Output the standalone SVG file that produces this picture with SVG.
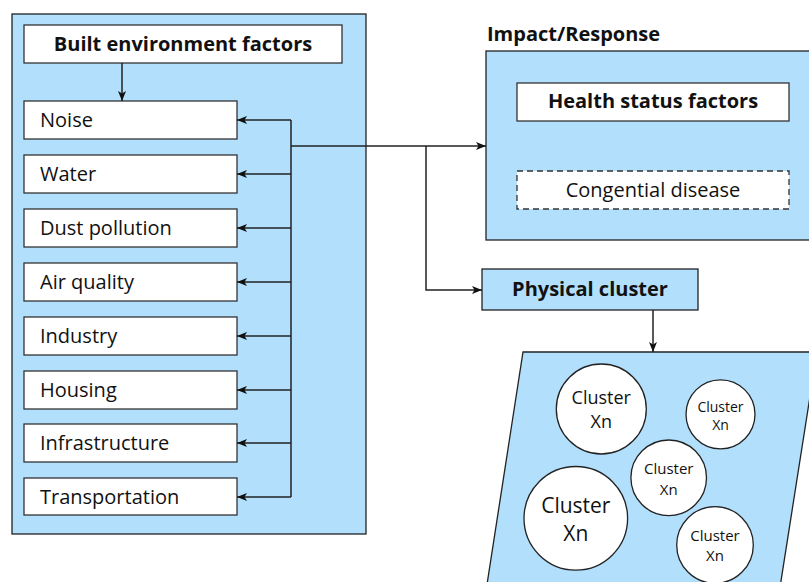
<svg xmlns="http://www.w3.org/2000/svg" width="809" height="582" viewBox="0 0 809 582">
<defs>
<style>
.panel{fill:#b1dffc;stroke:#222;stroke-width:1.3}
.box{fill:#fff;stroke:#333;stroke-width:1.3}
.dash{fill:#fff;stroke:#333;stroke-width:1.3;stroke-dasharray:6 4}
.circ{fill:#fff;stroke:#222;stroke-width:1.3}
.t{font-family:"Open Sans","Noto Sans",sans-serif;font-size:20px;fill:#111}
.b{font-family:"Open Sans","Noto Sans",sans-serif;font-size:20px;font-weight:bold;fill:#111}
.c{font-family:"Open Sans","Noto Sans",sans-serif;fill:#111;text-anchor:middle}
.ln{fill:none;stroke:#222;stroke-width:1.5}
</style>
<marker id="ah" viewBox="0 0 10 8" refX="10" refY="4" markerWidth="10" markerHeight="8" markerUnits="userSpaceOnUse" orient="auto">
<path d="M0,0 L10,4 L0,8 L2.5,4 z" fill="#111"/>
</marker>
</defs>

<g id="built-environment-panel">
<rect class="panel" x="12" y="14" width="354" height="520"/>
</g>
<g id="built-environment-factors">
<rect class="box" x="24" y="25" width="318" height="38"/>
<text class="b" x="183" y="51" text-anchor="middle">Built environment factors</text>
</g>
<g id="noise"><rect class="box" x="24" y="101" width="213" height="38"/><text class="t" x="40" y="127">Noise</text></g>
<g id="water"><rect class="box" x="24" y="155" width="213" height="38"/><text class="t" x="40" y="181">Water</text></g>
<g id="dust-pollution"><rect class="box" x="24" y="209" width="213" height="38"/><text class="t" x="40" y="235">Dust pollution</text></g>
<g id="air-quality"><rect class="box" x="24" y="263" width="213" height="38"/><text class="t" x="40" y="289">Air quality</text></g>
<g id="industry"><rect class="box" x="24" y="317" width="213" height="38"/><text class="t" x="40" y="343">Industry</text></g>
<g id="housing"><rect class="box" x="24" y="371" width="213" height="38"/><text class="t" x="40" y="397">Housing</text></g>
<g id="infrastructure"><rect class="box" x="24" y="424" width="213" height="38"/><text class="t" x="40" y="450">Infrastructure</text></g>
<g id="transportation"><rect class="box" x="24" y="478" width="213" height="37"/><text class="t" x="40" y="504">Transportation</text></g>

<g id="impact-response">
<text class="b" x="487" y="41">Impact/Response</text>
<rect class="panel" x="486" y="51" width="340" height="189"/>
</g>
<g id="health-status-factors">
<rect class="box" x="517" y="83" width="272" height="38"/>
<text class="b" x="653" y="108" text-anchor="middle">Health status factors</text>
</g>
<g id="congential-disease">
<rect class="dash" x="517" y="171" width="272" height="38"/>
<text class="t" x="653" y="197" text-anchor="middle">Congential disease</text>
</g>

<g id="physical-cluster">
<rect class="panel" x="482" y="269" width="216" height="41"/>
<text class="b" x="590" y="296" text-anchor="middle">Physical cluster</text>
</g>

<g id="cluster-area">
<polygon class="panel" points="523,352 817,352 778,600 484.6,600"/>
<circle class="circ" cx="601.3" cy="409" r="45"/>
<text class="c" x="601.3" y="404" font-size="18">Cluster</text>
<text class="c" x="601.3" y="428" font-size="18">Xn</text>
<circle class="circ" cx="720.5" cy="414.3" r="34.5"/>
<text class="c" x="720.5" y="411.5" font-size="14">Cluster</text>
<text class="c" x="720.5" y="430" font-size="14">Xn</text>
<circle class="circ" cx="668.7" cy="477.8" r="37.8"/>
<text class="c" x="668.7" y="474" font-size="15">Cluster</text>
<text class="c" x="668.7" y="494.5" font-size="15">Xn</text>
<circle class="circ" cx="575.8" cy="518.3" r="51.8"/>
<text class="c" x="575.8" y="512.7" font-size="21">Cluster</text>
<text class="c" x="575.8" y="540.7" font-size="21">Xn</text>
<circle class="circ" cx="715" cy="545" r="38.3"/>
<text class="c" x="715" y="541" font-size="15">Cluster</text>
<text class="c" x="715" y="560.7" font-size="15">Xn</text>
</g>

<g id="connectors">
<line class="ln" x1="122" y1="63" x2="122" y2="101" marker-end="url(#ah)"/>
<line class="ln" x1="291" y1="120" x2="291" y2="497"/>
<line class="ln" x1="291" y1="120" x2="237" y2="120" marker-end="url(#ah)"/>
<line class="ln" x1="291" y1="174" x2="237" y2="174" marker-end="url(#ah)"/>
<line class="ln" x1="291" y1="228" x2="237" y2="228" marker-end="url(#ah)"/>
<line class="ln" x1="291" y1="282" x2="237" y2="282" marker-end="url(#ah)"/>
<line class="ln" x1="291" y1="336" x2="237" y2="336" marker-end="url(#ah)"/>
<line class="ln" x1="291" y1="390" x2="237" y2="390" marker-end="url(#ah)"/>
<line class="ln" x1="291" y1="443" x2="237" y2="443" marker-end="url(#ah)"/>
<line class="ln" x1="291" y1="497" x2="237" y2="497" marker-end="url(#ah)"/>
<line class="ln" x1="291" y1="146" x2="486" y2="146" marker-end="url(#ah)"/>
<polyline class="ln" points="426,146 426,290 482,290" marker-end="url(#ah)"/>
<line class="ln" x1="653" y1="310" x2="653" y2="352" marker-end="url(#ah)"/>
</g>
</svg>
